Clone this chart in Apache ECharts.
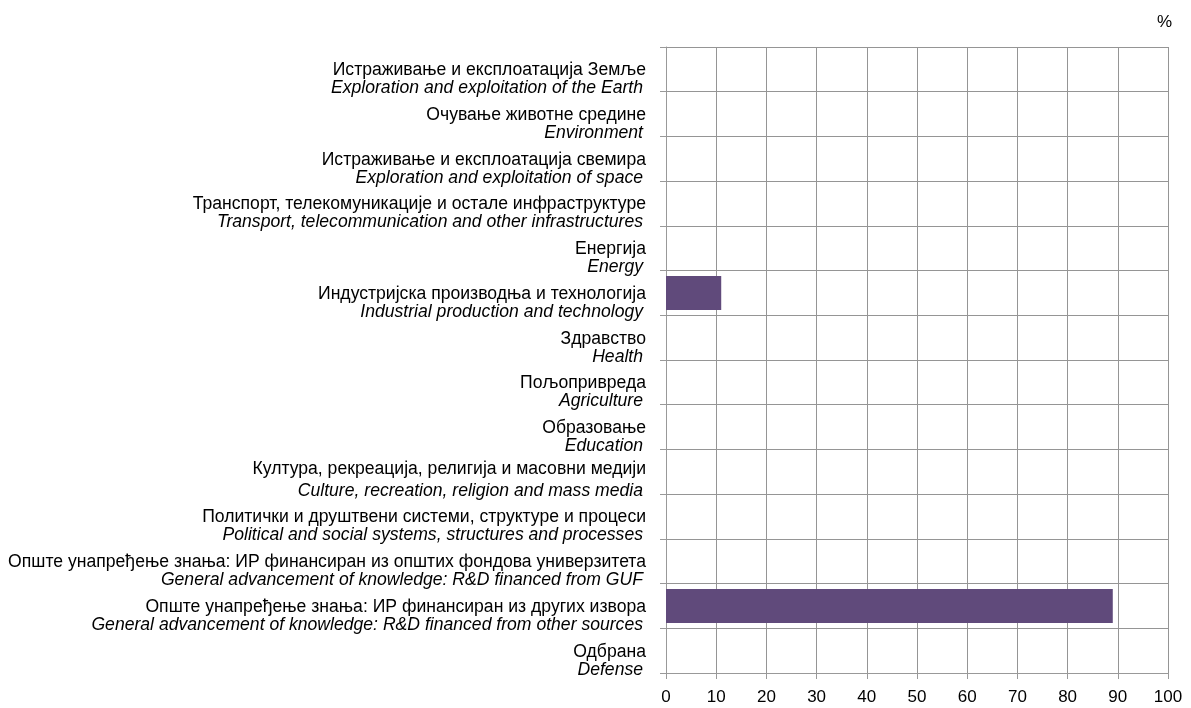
<!DOCTYPE html>
<html>
<head>
<meta charset="utf-8">
<script src="https://cdn.jsdelivr.net/npm/echarts@6/dist/echarts.min.js"></script>
<style>
html,body{margin:0;padding:0;background:#fff;}
#chart{width:1191px;height:708px;}
</style>
</head>
<body>
<div id="chart"></div>
<script>
const categoriesSr = [
  "Истраживање и експлоатација Земље",
  "Очување животне средине",
  "Истраживање и експлоатација свемира",
  "Транспорт, телекомуникације и остале инфраструктуре",
  "Енергија",
  "Индустријска производња и технологија",
  "Здравство",
  "Пољопривреда",
  "Образовање",
  "Култура, рекреација, религија и масовни медији",
  "Политички и друштвени системи, структуре и процеси",
  "Опште унапређење знања: ИР финансиран из општих фондова универзитета",
  "Опште унапређење знања: ИР финансиран из других извора",
  "Одбрана"
];
const categoriesEn = [
  "Exploration and exploitation of the Earth",
  "Environment",
  "Exploration and exploitation of space",
  "Transport, telecommunication and other infrastructures",
  "Energy",
  "Industrial production and technology",
  "Health",
  "Agriculture",
  "Education",
  "Culture, recreation, religion and mass media",
  "Political and social systems, structures and processes",
  "General advancement of knowledge: R&D financed from GUF",
  "General advancement of knowledge: R&D financed from other sources",
  "Defense"
];
const values = [0, 0, 0, 0, 0, 11.0, 0, 0, 0, 0, 0, 0, 89.0, 0];
const xTicks = [0, 10, 20, 30, 40, 50, 60, 70, 80, 90, 100];

const FONT = '"Liberation Sans", Arial, sans-serif';
const FS = 17.6;
const chart = echarts.init(document.getElementById('chart'));
const keys = categoriesSr.map((s, i) => String(i));
chart.setOption({
  animation: false,
  textStyle: { fontFamily: FONT },
  grid: { left: 666, right: 23, top: 47, bottom: 35, containLabel: false },
  title: {
    text: '%', right: 14, top: 9,
    textStyle: { fontFamily: FONT, fontSize: 17, fontWeight: 'normal', color: '#000' }
  },
  xAxis: {
    type: 'value', min: xTicks[0], max: xTicks[xTicks.length - 1], interval: 10,
    axisLine: { show: true, lineStyle: { color: '#999' } },
    axisTick: { show: true, length: 6, lineStyle: { color: '#999' } },
    splitLine: { show: true, lineStyle: { color: '#959595', width: 1 } },
    axisLabel: { color: '#000', fontSize: 17, fontFamily: FONT, margin: 16 }
  },
  yAxis: {
    type: 'category', inverse: true, data: keys,
    axisLine: { show: true, lineStyle: { color: '#999' } },
    axisTick: { show: true, length: 6, alignWithLabel: false, lineStyle: { color: '#999' } },
    splitLine: { show: true, lineStyle: { color: '#959595', width: 1 } },
    axisLabel: {
      margin: 20, align: 'right', padding: [20, 0, 0, 0],
      formatter: function (v) {
        const i = +v;
        const enStyle = (i === 9) ? 'e2' : 'e';
        return '{c|' + categoriesSr[i] + '}\n{' + enStyle + '|' + categoriesEn[i] + '}';
      },
      rich: {
        c: { fontSize: FS, lineHeight: 18, color: '#000', fontFamily: FONT, align: 'right' },
        e: { fontSize: FS, lineHeight: 18, color: '#000', fontFamily: FONT, fontStyle: 'italic', align: 'right', padding: [0, 3, 0, 0] },
        e2: { fontSize: FS, lineHeight: 26, color: '#000', fontFamily: FONT, fontStyle: 'italic', align: 'right', padding: [0, 3, 0, 0] }
      }
    }
  },
  series: [{
    type: 'bar', data: values, barCategoryGap: '24%',
    itemStyle: { color: '#604A7B' }
  }]
});
</script>
</body>
</html>
